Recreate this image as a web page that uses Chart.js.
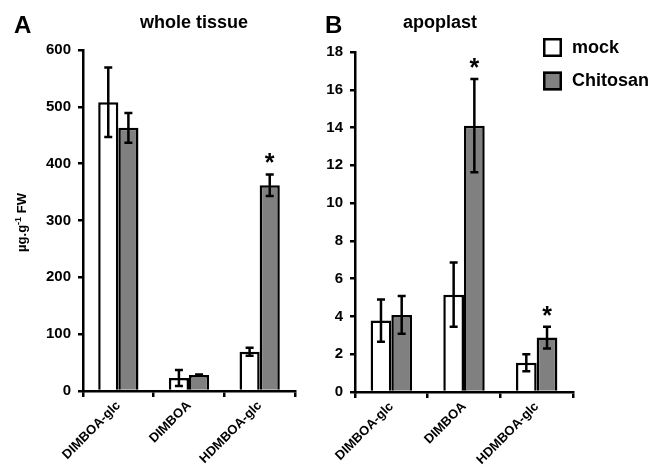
<!DOCTYPE html>
<html>
<head>
<meta charset="utf-8">
<script src="https://cdn.jsdelivr.net/npm/chart.js@4/dist/chart.umd.min.js"></script>
<style>
  html, body { margin: 0; padding: 0; background: #fff; }
  #wrap { position: relative; width: 655px; height: 470px; overflow: hidden; }
  .cv { position: absolute; top: 0; height: 470px; }
  #boxA { left: 0; width: 320px; }
  #boxB { left: 320px; width: 335px; }
</style>
</head>
<body>
<div id="wrap">
  <div class="cv" id="boxA"><canvas id="chartA"></canvas></div>
  <div class="cv" id="boxB"><canvas id="chartB"></canvas></div>
</div>
<script>
// ---- data ----
const categories = ['DIMBOA-glc', 'DIMBOA', 'HDMBOA-glc'];
const seriesNames = ['mock', 'Chitosan'];

// Panel A: whole tissue (µg/g FW)
const wholeMock = [508, 23, 69];
const wholeMockErr = [61, 14, 7];
const wholeChitosan = [463, 28, 362];
const wholeChitosanErr = [26, 1, 19];
const wholeStarsMock = [false, false, false];
const wholeStarsChitosan = [false, false, true];
const wholeTicks = [0, 100, 200, 300, 400, 500, 600];

// Panel B: apoplast
const apoMock = [3.78, 5.15, 1.55];
const apoMockErr = [1.12, 1.7, 0.45];
const apoChitosan = [4.08, 14.1, 2.88];
const apoChitosanErr = [1.0, 2.47, 0.58];
const apoStarsMock = [false, false, false];
const apoStarsChitosan = [false, true, true];
const apoTicks = [0, 2, 4, 6, 8, 10, 12, 14, 16, 18];

const FONT = "'Liberation Sans', Arial, sans-serif";
const MOCK_FILL = '#ffffff';
const CHI_FILL = '#808080';

// ---- plugin: error bars, stars, panel texts ----
const decorPlugin = {
  id: 'decor',
  afterDatasetsDraw(chart, args, opts) {
    const ctx = chart.ctx;
    const y = chart.scales.y;
    ctx.save();
    chart.data.datasets.forEach((ds, di) => {
      const meta = chart.getDatasetMeta(di);
      meta.data.forEach((bar, i) => {
        const v = ds.data[i];
        const e = opts.errors[di][i];
        const yt = y.getPixelForValue(v + e);
        const yb = y.getPixelForValue(v - e);
        const x = bar.x;
        ctx.strokeStyle = '#000';
        ctx.lineWidth = 2.5;
        ctx.lineCap = 'butt';
        ctx.beginPath();
        ctx.moveTo(x, yt); ctx.lineTo(x, yb);
        ctx.moveTo(x - 4, yt); ctx.lineTo(x + 4, yt);
        ctx.moveTo(x - 4, yb); ctx.lineTo(x + 4, yb);
        ctx.stroke();
        if (opts.stars[di][i]) {
          ctx.fillStyle = '#000';
          ctx.font = 'bold 25px ' + FONT;
          ctx.textAlign = 'center';
          ctx.textBaseline = 'alphabetic';
          ctx.fillText('*', x, yt - 3);
        }
      });
    });
    ctx.restore();
  },
  afterDraw(chart, args, opts) {
    const ctx = chart.ctx;
    const ca = chart.chartArea;
    ctx.save();
    ctx.fillStyle = '#000';
    ctx.textBaseline = 'alphabetic';
    // panel letter
    ctx.font = 'bold 24px ' + FONT;
    ctx.textAlign = 'left';
    ctx.fillText(opts.letter, opts.letterX, 33);
    // panel title
    ctx.font = 'bold 18px ' + FONT;
    ctx.textAlign = 'center';
    ctx.fillText(opts.title, opts.titleX, 28);
    // y axis title with superscript
    if (opts.yTitle) {
      ctx.translate(26, (ca.top + ca.bottom) / 2 + 2);
      ctx.rotate(-Math.PI / 2);
      const p1 = 'µg.g', sup = '-1', p2 = ' FW';
      ctx.font = 'bold 13px ' + FONT;
      const w1 = ctx.measureText(p1).width, w3 = ctx.measureText(p2).width;
      ctx.font = 'bold 9px ' + FONT;
      const w2 = ctx.measureText(sup).width;
      let x0 = -(w1 + w2 + w3) / 2;
      ctx.textAlign = 'left';
      ctx.font = 'bold 13px ' + FONT;
      ctx.fillText(p1, x0, 0);
      ctx.font = 'bold 9px ' + FONT;
      ctx.fillText(sup, x0 + w1, -5);
      ctx.font = 'bold 13px ' + FONT;
      ctx.fillText(p2, x0 + w1 + w2, 0);
    }
    ctx.restore();
    // legend
    if (opts.legend) {
      ctx.save();
      const bx = ca.right - 30;
      chart.data.datasets.forEach((ds, di) => {
        const by = 38 + di * 33.5;
        ctx.fillStyle = ds.backgroundColor;
        ctx.fillRect(bx, by, 19, 19);
        ctx.strokeStyle = '#000';
        ctx.lineWidth = 2.5;
        ctx.strokeRect(bx + 1.25, by + 1.25, 16.5, 16.5);
        ctx.fillStyle = '#000';
        ctx.font = 'bold 18px ' + FONT;
        ctx.textAlign = 'left';
        ctx.textBaseline = 'middle';
        ctx.fillText(ds.label, bx + 29, by + 10);
      });
      ctx.restore();
    }
  }
};

function makeChart(id, mock, chi, mockErr, chiErr, starsM, starsC, ticks, cfg) {
  const yMax = ticks[ticks.length - 1];
  const step = ticks[1] - ticks[0];
  return new Chart(document.getElementById(id), {
    type: 'bar',
    data: {
      labels: categories,
      datasets: [
        { label: seriesNames[0], data: mock, backgroundColor: MOCK_FILL, borderColor: '#000', borderWidth: 2.5,
          categoryPercentage: 0.57, barPercentage: 1.0 },
        { label: seriesNames[1], data: chi, backgroundColor: CHI_FILL, borderColor: '#000', borderWidth: 2.5,
          categoryPercentage: 0.57, barPercentage: 1.0 }
      ]
    },
    options: {
      responsive: true,
      maintainAspectRatio: false,
      animation: false,
      layout: { padding: cfg.padding },
      plugins: {
        legend: { display: false },
        tooltip: { enabled: false },
        decor: {
          errors: [mockErr, chiErr],
          stars: [starsM, starsC],
          letter: cfg.letter, letterX: cfg.letterX,
          title: cfg.title, titleX: cfg.titleX,
          yTitle: cfg.yTitle, legend: cfg.legend
        }
      },
      scales: {
        x: {
          offset: true,
          grid: { display: true, offset: true, drawOnChartArea: false, drawTicks: true,
                  tickLength: 6, color: '#000', lineWidth: 2.5 },
          border: { display: true, color: '#000', width: 2.5 },
          ticks: { color: '#000', font: { family: FONT, size: 13, weight: 'bold' },
                   maxRotation: 45, minRotation: 45, padding: 1, autoSkip: false },
          afterFit(s) { s.height = cfg.xHeight; }
        },
        y: {
          min: 0, max: yMax,
          grid: { display: true, drawOnChartArea: false, drawTicks: true, tickLength: 5,
                  color: '#000', lineWidth: 2.5 },
          border: { display: true, color: '#000', width: 2.5 },
          ticks: { stepSize: step, color: '#000', padding: 7,
                   font: { family: FONT, size: 15, weight: 'bold' } },
          afterFit(s) { s.width = cfg.yWidth; }
        }
      }
    },
    plugins: [decorPlugin]
  });
}

makeChart('chartA', wholeMock, wholeChitosan, wholeMockErr, wholeChitosanErr,
  wholeStarsMock, wholeStarsChitosan, wholeTicks,
  { padding: { top: 50, right: 25, left: 0, bottom: 0 }, yWidth: 83, xHeight: 79,
    letter: 'A', letterX: 14, title: 'whole tissue', titleX: 194, yTitle: true, legend: false });

makeChart('chartB', apoMock, apoChitosan, apoMockErr, apoChitosanErr,
  apoStarsMock, apoStarsChitosan, apoTicks,
  { padding: { top: 52, right: 82, left: 0, bottom: 0 }, yWidth: 35, xHeight: 78,
    letter: 'B', letterX: 5, title: 'apoplast', titleX: 120, yTitle: false, legend: true });
</script>
</body>
</html>
